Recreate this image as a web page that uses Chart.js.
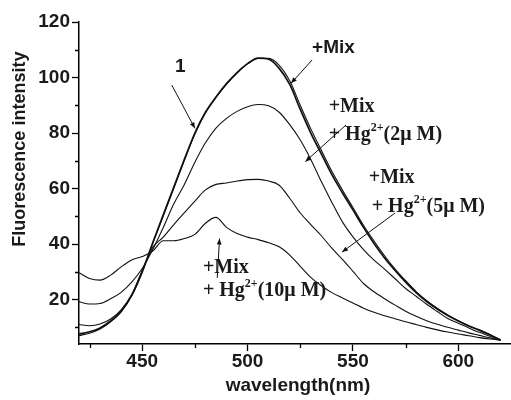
<!DOCTYPE html>
<html>
<head>
<meta charset="utf-8">
<script src="https://cdn.jsdelivr.net/npm/chart.js@4.4.0/dist/chart.umd.min.js"></script>
<style>
  html, body { margin: 0; padding: 0; background: #fff; }
  canvas { display: block; }
</style>
</head>
<body>
<canvas id="spectra" width="511" height="400"></canvas>
<script>
// emission wavelengths (nm)
const wavelength = [420, 425, 430, 435, 440, 445, 450, 455, 460, 465, 470, 475, 480, 485, 490, 495, 500, 505, 510, 515,
  520, 525, 530, 535, 540, 545, 550, 555, 560, 565, 570, 575, 580, 585, 590, 595, 600, 605, 610, 615, 620];

// fluorescence intensity for each sample
const probeOnly = [7.6, 8.4, 9.8, 12.3, 15.8, 21.5, 30.0, 40.5, 50.5, 60.5, 70.5, 80.0, 87.5, 93.0, 97.8, 101.8, 105.0, 107.0, 106.6, 103.3,
  97.5, 88.5, 80.0, 72.5, 65.0, 58.5, 52.3, 46.0, 40.2, 35.0, 30.5, 26.3, 22.5, 19.3, 16.6, 14.3, 12.3, 10.5, 9.0, 7.3, 5.4];
const withMix = [7.0, 7.9, 9.4, 12.0, 15.6, 21.4, 30.0, 40.3, 50.2, 60.2, 70.2, 79.6, 87.2, 92.8, 97.6, 101.6, 104.9, 106.9, 106.9, 104.4,
  98.8, 90.0, 81.5, 73.8, 66.2, 59.5, 53.2, 46.8, 41.1, 35.8, 31.0, 26.8, 22.9, 19.6, 16.9, 14.5, 12.4, 10.6, 9.0, 7.3, 5.4];
const withHg2 = [19.2, 18.4, 18.6, 20.3, 22.6, 26.3, 31.2, 38.0, 46.0, 54.5, 61.5, 69.5, 76.5, 81.8, 85.3, 87.8, 89.5, 90.3, 89.8, 87.5,
  83.0, 77.5, 70.5, 62.5, 55.0, 48.0, 42.6, 38.0, 34.2, 31.0, 27.5, 24.0, 21.2, 18.3, 15.7, 13.2, 11.5, 9.8, 8.2, 6.8, 5.4];
const withHg5 = [11.0, 10.6, 11.2, 13.0, 16.3, 21.8, 30.5, 38.8, 42.5, 47.0, 51.3, 55.5, 59.5, 61.5, 62.0, 62.7, 63.2, 63.3, 62.7, 61.2,
  56.5, 51.2, 47.0, 43.0, 38.5, 34.5, 30.2, 25.8, 22.8, 20.3, 18.0, 15.8, 14.0, 12.4, 11.1, 10.0, 9.0, 8.0, 7.1, 6.2, 5.4];
const withHg10 = [29.7, 27.6, 27.0, 28.8, 31.8, 34.3, 35.5, 37.5, 41.2, 41.2, 42.0, 43.5, 47.5, 49.6, 46.0, 43.8, 42.5, 41.6, 40.5, 39.0,
  36.0, 32.0, 28.0, 25.0, 22.5, 20.6, 18.8, 16.9, 15.4, 14.2, 13.1, 12.0, 11.0, 10.0, 9.1, 8.3, 7.6, 7.0, 6.3, 5.8, 5.4];

// axis ticks (labels only on the majors)
const xTicks = [425, 450, 475, 500, 525, 550, 575, 600];
const yTicks = [10, 20, 30, 40, 50, 60, 70, 80, 90, 100, 110, 120];

const SANS = '"Liberation Sans", Arial, sans-serif';
const SERIF = '"Liberation Serif", "Times New Roman", serif';
const INK = '#111';

function series(values, width) {
  return {
    data: wavelength.map((w, i) => ({ x: w, y: values[i] })),
    borderColor: INK,
    borderWidth: width,
    pointRadius: 0,
    fill: false,
    cubicInterpolationMode: 'monotone'
  };
}

const isMajorX = v => v % 50 === 0;
const isMajorY = v => v % 20 === 0;

function arrow(ctx, x0, y0, x1, y1) {
  const a = Math.atan2(y1 - y0, x1 - x0);
  const len = 6, half = 2.4;
  ctx.beginPath();
  ctx.moveTo(x0, y0);
  ctx.lineTo(x1, y1);
  ctx.stroke();
  ctx.beginPath();
  ctx.moveTo(x1, y1);
  ctx.lineTo(x1 - len * Math.cos(a) + half * Math.sin(a), y1 - len * Math.sin(a) - half * Math.cos(a));
  ctx.lineTo(x1 - len * Math.cos(a) - half * Math.sin(a), y1 - len * Math.sin(a) + half * Math.cos(a));
  ctx.closePath();
  ctx.fill();
}

// "+ Hg2+(n μ M)" with a raised charge
function hgLabel(ctx, x, y, conc) {
  ctx.font = 'bold 20px ' + SERIF;
  let s = '+ Hg';
  ctx.fillText(s, x, y);
  x += ctx.measureText(s).width;
  ctx.font = 'bold 12px ' + SERIF;
  ctx.fillText('2+', x, y - 9);
  x += ctx.measureText('2+').width;
  ctx.font = 'bold 20px ' + SERIF;
  ctx.fillText('(' + conc + 'μ M)', x, y);
}

const decorations = {
  id: 'decorations',
  afterDraw(chart) {
    const { ctx, chartArea, scales: { x, y } } = chart;
    const px = v => x.getPixelForValue(v);
    const py = v => y.getPixelForValue(v);
    ctx.save();
    ctx.strokeStyle = '#000';
    ctx.fillStyle = '#000';

    // short minor ticks
    ctx.lineWidth = 1.3;
    ctx.beginPath();
    xTicks.filter(v => !isMajorX(v)).forEach(v => {
      const xx = Math.round(px(v)) + 0.5;
      ctx.moveTo(xx, chartArea.bottom);
      ctx.lineTo(xx, chartArea.bottom + 4);
    });
    yTicks.filter(v => !isMajorY(v)).forEach(v => {
      const yy = Math.round(py(v)) + 0.5;
      ctx.moveTo(chartArea.left, yy);
      ctx.lineTo(chartArea.left - 4, yy);
    });
    ctx.stroke();

    // axis titles
    ctx.fillStyle = '#1a1a1a';
    ctx.textAlign = 'center';
    ctx.textBaseline = 'middle';
    ctx.font = 'bold 19px ' + SANS;
    ctx.fillText('wavelength(nm)', px(523.9), chartArea.bottom + 42);
    ctx.save();
    ctx.translate(chartArea.left - 58.5, py(74.2));
    ctx.rotate(-Math.PI / 2);
    ctx.font = 'bold 18px ' + SANS;
    ctx.fillText('Fluorescence intensity', 0, 0);
    ctx.restore();

    // sample labels
    ctx.textAlign = 'left';
    ctx.textBaseline = 'alphabetic';
    ctx.font = 'bold 19px ' + SANS;
    ctx.fillText('1', px(465.6), py(102.0));
    ctx.fillText('+Mix', px(530.6), py(108.8));

    ctx.font = 'bold 20px ' + SERIF;
    ctx.fillText('+Mix', px(538.5), py(87.6));
    hgLabel(ctx, px(538.5), py(77.5), '2');
    ctx.font = 'bold 20px ' + SERIF;
    ctx.fillText('+Mix', px(557.5), py(61.9));
    hgLabel(ctx, px(558.9), py(51.6), '5');
    ctx.font = 'bold 20px ' + SERIF;
    ctx.fillText('+Mix', px(478.8), py(29.6));
    hgLabel(ctx, px(478.8), py(21.3), '10');

    // pointers to the curves
    ctx.lineWidth = 1;
    ctx.strokeStyle = '#111';
    ctx.fillStyle = '#111';
    arrow(ctx, px(464.0), py(97.3), px(475.0), py(81.7));
    arrow(ctx, px(530.6), py(106.3), px(520.6), py(97.9));
    arrow(ctx, px(546.7), py(82.9), px(527.4), py(69.7));
    arrow(ctx, px(570.0), py(51.2), px(544.8), py(37.1));
    arrow(ctx, px(485.6), py(27.8), px(486.7), py(42.0));
    ctx.restore();
  }
};

new Chart(document.getElementById('spectra').getContext('2d'), {
  type: 'line',
  data: {
    datasets: [
      series(probeOnly, 1.7),
      series(withMix, 1.1),
      series(withHg2, 1.1),
      series(withHg5, 1.1),
      series(withHg10, 1.1)
    ]
  },
  options: {
    responsive: false,
    animation: false,
    devicePixelRatio: 1,
    layout: { padding: { top: 22, right: 0, bottom: 0, left: 0 } },
    plugins: {
      legend: { display: false },
      tooltip: { enabled: false }
    },
    scales: {
      x: {
        type: 'linear',
        min: 420,
        max: 625,
        afterBuildTicks: s => { s.ticks = xTicks.map(v => ({ value: v })); },
        afterFit: s => { s.height = 56; },
        ticks: {
          autoSkip: false,
          maxRotation: 0,
          padding: 1,
          color: '#1a1a1a',
          font: { family: SANS, weight: 'bold', size: 19, lineHeight: 1 },
          callback: v => isMajorX(v) ? String(v) : ''
        },
        grid: {
          drawOnChartArea: false,
          tickLength: 7,
          tickWidth: 1.3,
          tickColor: c => (c.tick && isMajorX(c.tick.value)) ? '#000' : 'rgba(0,0,0,0)'
        },
        border: { color: '#000', width: 1.5 }
      },
      y: {
        min: 4,
        max: 120,
        afterBuildTicks: s => { s.ticks = yTicks.map(v => ({ value: v })); },
        afterFit: s => { s.width = 79; },
        ticks: {
          autoSkip: false,
          padding: 2,
          color: '#1a1a1a',
          font: { family: SANS, weight: 'bold', size: 19, lineHeight: 1 },
          callback: v => isMajorY(v) ? String(v) : ''
        },
        grid: {
          drawOnChartArea: false,
          tickLength: 7,
          tickWidth: 1.3,
          tickColor: c => (c.tick && isMajorY(c.tick.value)) ? '#000' : 'rgba(0,0,0,0)'
        },
        border: { color: '#000', width: 1.5 }
      }
    }
  },
  plugins: [decorations]
});
</script>
</body>
</html>
